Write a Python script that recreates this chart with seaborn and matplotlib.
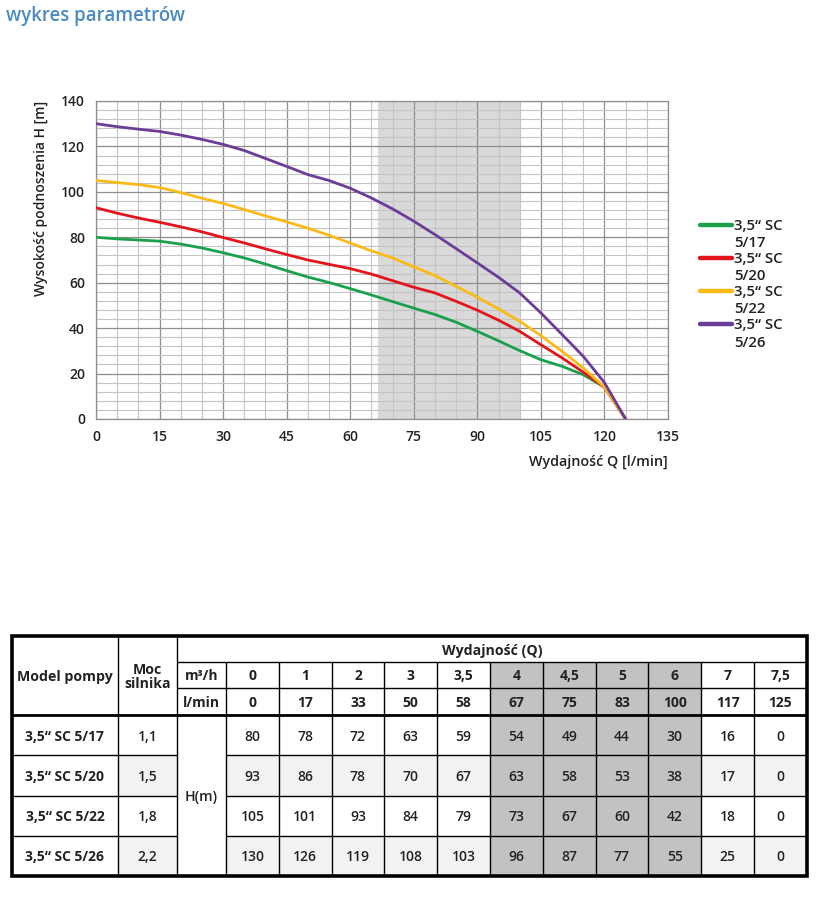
import numpy as np
import pandas as pd
import matplotlib
matplotlib.use('Agg')
import matplotlib.pyplot as plt
import seaborn as sns
from matplotlib.lines import Line2D
from matplotlib.patches import Rectangle
from matplotlib.legend_handler import HandlerLine2D
from matplotlib.ticker import MultipleLocator

q_curve = [0, 5, 10, 15, 20, 25, 30, 35, 40, 45, 50, 55, 60, 65, 70, 75, 80, 85, 90, 95, 100, 105, 110, 115, 120, 125]
h_517 = [80, 79.3, 78.8, 78.3, 77, 75.3, 73.2, 70.9, 68.2, 65.3, 62.5, 60.1, 57.4, 54.6, 51.7, 48.8, 46, 42.6, 38.6, 34.4, 30.1, 26.1, 23.2, 19.5, 14, 0]
h_520 = [93, 90.6, 88.5, 86.6, 84.6, 82.4, 79.9, 77.5, 74.9, 72.4, 70, 68.1, 66.2, 63.8, 60.9, 58, 55.5, 51.8, 47.9, 43.5, 38.6, 32.7, 26.9, 20.6, 14, 0]
h_522 = [105, 104.1, 103.2, 101.9, 99.7, 97.2, 94.9, 92.2, 89.4, 86.8, 84, 80.9, 77.5, 74, 70.9, 67, 63.1, 58.4, 53.6, 48.5, 43, 36.7, 29.8, 22.5, 14, 0]
h_526 = [130, 128.7, 127.6, 126.6, 125, 123.1, 120.9, 118.2, 114.7, 111.2, 107.6, 105, 101.6, 97.3, 92.5, 87.1, 81.2, 75, 68.7, 62.4, 55.5, 46.7, 37.2, 27.6, 16, 0]

models = ['3,5“ SC 5/17', '3,5“ SC 5/20', '3,5“ SC 5/22', '3,5“ SC 5/26']
legend_labels = ['3,5“ SC\n5/17', '3,5“ SC\n5/20', '3,5“ SC\n5/22', '3,5“ SC\n5/26']
colors = ['#1ba14b', '#e3141c', '#fbba16', '#6b3c98']

# --- dane z tabeli ---
moc = ['1,1', '1,5', '1,8', '2,2']
q_m3h = ['0', '1', '2', '3', '3,5', '4', '4,5', '5', '6', '7', '7,5']
q_lmin = [0, 17, 33, 50, 58, 67, 75, 83, 100, 117, 125]
h_table = [
    [80, 78, 72, 63, 59, 54, 49, 44, 30, 16, 0],
    [93, 86, 78, 70, 67, 63, 58, 53, 38, 17, 0],
    [105, 101, 93, 84, 79, 73, 67, 60, 42, 18, 0],
    [130, 126, 119, 108, 103, 96, 87, 77, 55, 25, 0],
]
band = (66.5, 100)

sns.set_style('white')
plt.rcParams['font.family'] = ['Open Sans', 'DejaVu Sans']
TXT = '#222222'

df = pd.DataFrame({
    'Q': q_curve * 4,
    'H': h_517 + h_520 + h_522 + h_526,
    'model': sum([[lab] * len(q_curve) for lab in legend_labels], []),
})

fig = plt.figure(figsize=(8.16, 9.19), dpi=100)
fig.text(6 / 816, 1 - 6 / 919, 'wykres parametrów', color='#4a8ac0',
         fontsize=13.4, fontweight='semibold', va='top', ha='left')

ax = fig.add_axes([96 / 816, 1 - 419 / 919, 572 / 816, 318 / 919])
ax.axvspan(*band, color='#d9d9d9', zorder=0.2, lw=0)
sns.lineplot(data=df, x='Q', y='H', hue='model', palette=colors,
             linewidth=2, ax=ax, zorder=3)

ax.set_xlim(0, 135)
ax.set_ylim(0, 140)
ax.xaxis.set_major_locator(MultipleLocator(15))
ax.xaxis.set_minor_locator(MultipleLocator(5))
ax.yaxis.set_major_locator(MultipleLocator(20))
ax.yaxis.set_minor_locator(MultipleLocator(4))
ax.set_axisbelow(True)
ax.grid(which='major', color='#8f8f8f', lw=0.9)
ax.grid(which='minor', color='#c4c4c4', lw=0.8)
for s in ax.spines.values():
    s.set_color('#8f8f8f')
    s.set_linewidth(0.9)
ax.tick_params(which='major', length=5, width=0.9, color='#8f8f8f',
               labelsize=10, labelcolor=TXT, pad=3)
ax.tick_params(which='minor', length=0)
for t in ax.get_xticklabels() + ax.get_yticklabels():
    t.set_fontweight('semibold')
ax.set_xlabel('Wydajność Q [l/min]', loc='right', fontsize=10.3,
              fontweight='semibold', color=TXT, labelpad=8)
ax.set_ylabel('Wysokość podnoszenia H [m]', loc='top', fontsize=10,
              fontweight='semibold', color=TXT, labelpad=9)


class TopLine(HandlerLine2D):
    # kreska legendy na wysokości pierwszej linii tekstu
    def create_artists(self, legend, orig_handle, xdescent, ydescent,
                       width, height, fontsize, trans):
        arts = super().create_artists(legend, orig_handle, xdescent, ydescent,
                                      width, height, fontsize, trans)
        for a in arts:
            a.set_ydata(np.asarray(a.get_ydata()) + 0.66 * fontsize)
        return arts


handles, labels = ax.get_legend_handles_labels()
ax.get_legend().remove()
leg = fig.legend(handles, labels, loc='upper left',
                 bbox_to_anchor=(700 / 816, 1 - 219 / 919),
                 frameon=False, fontsize=10.8, handlelength=2.15,
                 handletextpad=0.1, labelspacing=0.12, borderpad=0,
                 borderaxespad=0, handler_map={Line2D: TopLine()})
for ln in leg.get_lines():
    ln.set_linewidth(3.2)
for t in leg.get_texts():
    t.set_fontweight('semibold')
    t.set_color(TXT)
    t.set_linespacing(1.3)

# --- tabela ---
col_w = [106, 59, 49] + [52.8] * len(q_m3h)
row_h = [26, 26, 27] + [40.25] * len(models)
xe = np.concatenate([[0], np.cumsum(col_w)])
ye = np.concatenate([[0], np.cumsum(row_h)])
tax = fig.add_axes([12 / 816, 1 - (636 + ye[-1]) / 919, xe[-1] / 816, ye[-1] / 919])
tax.set_xlim(0, xe[-1])
tax.set_ylim(ye[-1], 0)
tax.axis('off')


def fill(c0, c1, r0, r1, color):
    tax.add_patch(Rectangle((xe[c0], ye[r0]), xe[c1] - xe[c0], ye[r1] - ye[r0],
                            facecolor=color, lw=0, zorder=0))


def put(c0, c1, r0, r1, s, bold=False, size=10):
    tax.text((xe[c0] + xe[c1]) / 2, (ye[r0] + ye[r1]) / 2, s, ha='center',
             va='center_baseline', fontsize=size, color=TXT,
             fontweight='bold' if bold else 'semibold', linespacing=1.0)


shaded = [i for i, q in enumerate(q_lmin) if band[0] <= q <= band[1]]
for r in range(len(models)):
    if r % 2 == 1:
        fill(1, 2, 3 + r, 4 + r, '#f2f2f2')
        fill(3, len(col_w), 3 + r, 4 + r, '#f2f2f2')
for i in shaded:
    fill(3 + i, 4 + i, 1, len(row_h), '#c2c2c2')

put(0, 1, 0, 3, 'Model pompy', bold=True, size=10.2)
put(1, 2, 0, 3, 'Moc\nsilnika', bold=True, size=10.2)
put(2, len(col_w), 0, 1, 'Wydajność (Q)', bold=True, size=10.2)
put(2, 3, 1, 2, 'm³/h', bold=True)
put(2, 3, 2, 3, 'l/min', bold=True)
put(2, 3, 3, len(row_h), 'H(m)', size=10.2)
for i, (a, b) in enumerate(zip(q_m3h, q_lmin)):
    put(3 + i, 4 + i, 1, 2, a, bold=True)
    put(3 + i, 4 + i, 2, 3, str(b), bold=True)
for r, (m, p, vals) in enumerate(zip(models, moc, h_table)):
    put(0, 1, 3 + r, 4 + r, m, bold=True)
    put(1, 2, 3 + r, 4 + r, p)
    for i, v in enumerate(vals):
        put(3 + i, 4 + i, 3 + r, 4 + r, str(v))

lk = dict(color='black', lw=1.0, zorder=2, clip_on=False)
tax.vlines(xe[1:3], ye[0], ye[-1], **lk)
tax.vlines(xe[3:-1], ye[1], ye[-1], **lk)
tax.hlines(ye[1:3], xe[2], xe[-1], **lk)
tax.hlines(ye[4:-1], xe[0], xe[2], **lk)
tax.hlines(ye[4:-1], xe[3], xe[-1], **lk)
tax.hlines(ye[3], xe[0], xe[-1], color='black', lw=2.0, zorder=3, clip_on=False)
tax.add_patch(Rectangle((0, 0), xe[-1], ye[-1], fill=False, edgecolor='black',
                        lw=2.6, zorder=4, clip_on=False))

fig.savefig('out.png', dpi=100)
